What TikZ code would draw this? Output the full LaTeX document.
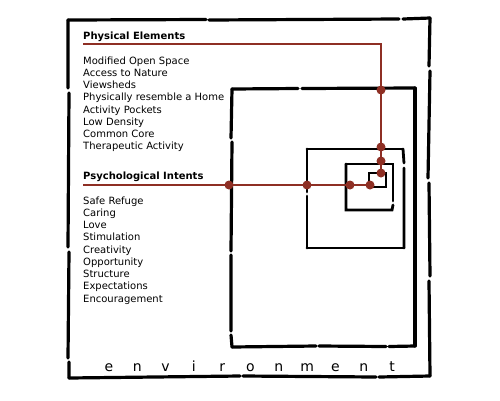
\documentclass[tikz,border=0pt]{standalone}
\usepackage{fontspec}
\setmainfont{DejaVu Sans}
\definecolor{wine}{HTML}{8E2F24}
\begin{document}
\begin{tikzpicture}[x=1pt,y=-1pt,
  sketch/.style={line width=3.2pt,black,line cap=round},
  thinsketch/.style={line width=2.8pt,black,line cap=round},
  redline/.style={line width=1.6pt,wine},
  rdot/.style={circle,fill=wine,inner sep=0pt,minimum size=9pt},
  lbl/.style={anchor=base west,inner sep=0pt,font=\fontsize{10}{12}\selectfont},
  head/.style={anchor=base west,inner sep=0pt,font=\fontsize{10}{12}\selectfont\bfseries},
  envl/.style={anchor=base,inner sep=0pt,font=\fontsize{14}{14}\selectfont}]
\useasboundingbox (0,0) rectangle (500,400);
% outer box
\draw[sketch] (68,20) -- (206,19.5) (209,20) -- (399,19) (403,19) -- (430,18);
\draw[sketch] (430,18) -- (429,66) (430,71) -- (428,178) (429,183) -- (430,276) (429,281) -- (430,376);
\draw[sketch] (430,376) -- (379,377) (376,377) -- (243,376) (240,376) -- (69,378);
\draw[sketch] (69,378) -- (69,362) (68,358) -- (69,252) (68,247) -- (69,93) (68,88) -- (68,20);
% second box
\draw[sketch] (232,89) -- (298,88.5) (302,88.5) -- (415,88);
\draw[sketch] (415,88) -- (415,346);
\draw[sketch] (415,346) -- (389,346.5) (386,346.5) -- (319,346) (316,346) -- (232,347);
\draw[sketch] (232,347) -- (231,335) (231,331) -- (231,255) (231,251) -- (232,142) (231,138) -- (232,89);
% third box
\draw[thinsketch] (307,149) -- (403,149);
\draw[thinsketch] (403,149) -- (404,163) (404,168) -- (404,248);
\draw[thinsketch] (404,248) -- (307,248);
\draw[thinsketch] (307,248) -- (307,196) (307,192) -- (307,149);
% fourth box
\draw[thinsketch] (346,164) -- (393,164) -- (393,201);
\draw[thinsketch] (393,205) -- (392,210) -- (346,210) -- (346,164);
% fifth box
\draw[line width=2.2pt,line cap=round] (369,173) rectangle (386,187);
% texts
\node[head] (phys) at (83,39) {Physical Elements};
\foreach \t [count=\i from 0] in {Modified Open Space,Access to Nature,Viewsheds,Physically resemble a Home,Activity Pockets,Low Density,Common Core,Therapeutic Activity}
  \node[lbl] (pl\i) at (83,64+12.25*\i) {\t};
\node[head] (psych) at (83,179) {Psychological Intents};
\foreach \t [count=\i from 0] in {Safe Refuge,Caring,Love,Stimulation,Creativity,Opportunity,Structure,Expectations,Encouragement}
  \node[lbl] (sl\i) at (83,204+12.25*\i) {\t};
\foreach \c [count=\i from 0] in {e,n,v,i,r,o,n,m,e,n,t}
  \node[envl] (env\i) at (109+28.3*\i,371) {\c};
% red connectors
\coordinate (pa) at (83,44);
\coordinate (pb) at (381,44);
\node[rdot] (d1) at (381,90) {};
\node[rdot] (d2) at (381,147) {};
\node[rdot] (d3) at (381,161) {};
\node[rdot] (d4) at (381,173) {};
\draw[redline] (pa) -- (pb) -- (d4.center);
\coordinate (qa) at (83,185);
\node[rdot] (e1) at (229,185) {};
\node[rdot] (e2) at (307,185) {};
\node[rdot] (e3) at (350,185) {};
\node[rdot] (e4) at (370,185) {};
\draw[redline] (qa) -- (e4.center);
\end{tikzpicture}
\end{document}
